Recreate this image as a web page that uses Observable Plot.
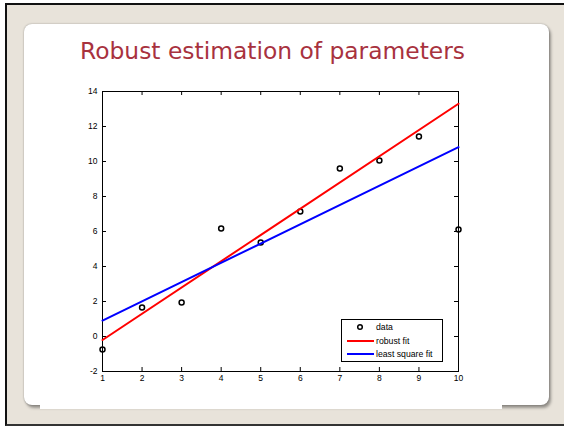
<!DOCTYPE html>
<html><head><meta charset="utf-8">
<script src="https://cdn.jsdelivr.net/npm/d3@7"></script>
<script src="https://cdn.jsdelivr.net/npm/@observablehq/plot@0.6"></script>
<style>
html,body{margin:0;padding:0;background:#fff;}
#page{position:relative;width:564px;height:426px;overflow:hidden;background:#fff;}
#bg{position:absolute;left:5px;top:3px;width:559px;height:423px;box-sizing:border-box;background:#e8e3da;border-left:2px solid #111;border-top:2px solid #111;border-bottom:2px solid #333;}
#card{position:absolute;left:24px;top:24px;width:525px;height:381px;border-radius:8px;background:#fff;box-shadow:0 0 2px rgba(0,0,0,.35),2px 3px 3px rgba(0,0,0,.35);}
#title{position:absolute;left:0;top:0;}
#chart{position:absolute;left:40px;top:75px;}
#legend{position:absolute;left:341px;top:319px;width:102px;height:43px;box-sizing:border-box;border:1px solid #000;background:#fff;font-family:"Liberation Sans",Arial,sans-serif;font-size:8.7px;color:#000;}
#legend .row{position:absolute;left:0;height:12px;line-height:12px;}
#legend .lab{position:absolute;left:34px;white-space:nowrap;}
</style></head>
<body><div id="page">
<div id="bg"></div>
<div id="card"></div>
<svg id="title" width="564" height="80"><text x="80" y="59" font-family="DejaVu Sans, Verdana, sans-serif" font-size="23" fill="#a8323e" textLength="385" lengthAdjust="spacingAndGlyphs">Robust estimation of parameters</text></svg>
<div id="chart"></div>
<div id="legend"></div>
</div>
<script>
const xs = [1, 2, 3, 4, 5, 6, 7, 8, 9, 10];
const ys = [-0.74, 1.66, 1.94, 6.17, 5.37, 7.14, 9.6, 10.06, 11.43, 6.11];
const fitX = [1, 10];
const robustY = [-0.2, 13.3];
const lsY = [0.91, 10.82];
const xTicks = [1, 2, 3, 4, 5, 6, 7, 8, 9, 10];
const yTicks = [-2, 0, 2, 4, 6, 8, 10, 12, 14];
const legendLabels = ["data", "robust fit", "least square fit"];

const W = 462, H = 334, ML = 62, MR = 44, MT = 16, MB = 38;
const PW = W - ML - MR, PH = H - MT - MB, TS = 4;

const pts = xs.map((x, i) => ({x, y: ys[i]}));
const robust = fitX.map((x, i) => ({x, y: robustY[i]}));
const ls = fitX.map((x, i) => ({x, y: lsY[i]}));

const chart = Plot.plot({
  width: W, height: H,
  marginLeft: ML, marginRight: MR, marginTop: MT, marginBottom: MB,
  x: {domain: [1, 10], label: null},
  y: {domain: [-2, 14], label: null},
  style: {background: "white", fontFamily: "'Liberation Sans', Arial, sans-serif", fontSize: "8.5px", color: "black", overflow: "visible"},
  marks: [
    Plot.frame({stroke: "black", strokeWidth: 1}),
    Plot.tickX(xTicks, {x: d => d, insetTop: PH - TS, stroke: "black"}),
    Plot.tickX(xTicks, {x: d => d, insetBottom: PH - TS, stroke: "black"}),
    Plot.tickY(yTicks, {y: d => d, insetRight: PW - TS, stroke: "black"}),
    Plot.tickY(yTicks, {y: d => d, insetLeft: PW - TS, stroke: "black"}),
    Plot.axisX(xTicks, {tickSize: 0, tickPadding: 3, fontSize: 8.5, tickFormat: d => String(d)}),
    Plot.axisY(yTicks, {tickSize: 0, tickPadding: 5, fontSize: 8.5, tickFormat: d => String(d)}),
    Plot.dot(pts, {x: "x", y: "y", r: 2.5, stroke: "black", strokeWidth: 1.5, fill: "none"}),
    Plot.line(robust, {x: "x", y: "y", stroke: "#ff0000", strokeWidth: 2}),
    Plot.line(ls, {x: "x", y: "y", stroke: "#0000ff", strokeWidth: 2})
  ]
});
document.getElementById("chart").appendChild(chart);

const leg = document.getElementById("legend");
const rowsY = [1, 15, 28];
const syms = [
  '<svg width="34" height="12"><circle cx="18" cy="6" r="2.3" fill="none" stroke="#000" stroke-width="1.5"/></svg>',
  '<svg width="34" height="12"><line x1="5" x2="32" y1="6" y2="6" stroke="#ff0000" stroke-width="2"/></svg>',
  '<svg width="34" height="12"><line x1="5" x2="32" y1="6" y2="6" stroke="#0000ff" stroke-width="2"/></svg>'
];
legendLabels.forEach((t, i) => {
  const r = document.createElement("div");
  r.className = "row";
  r.style.top = rowsY[i] + "px";
  r.innerHTML = syms[i] + '<span class="lab">' + t + '</span>';
  leg.appendChild(r);
});
</script>
</body></html>
